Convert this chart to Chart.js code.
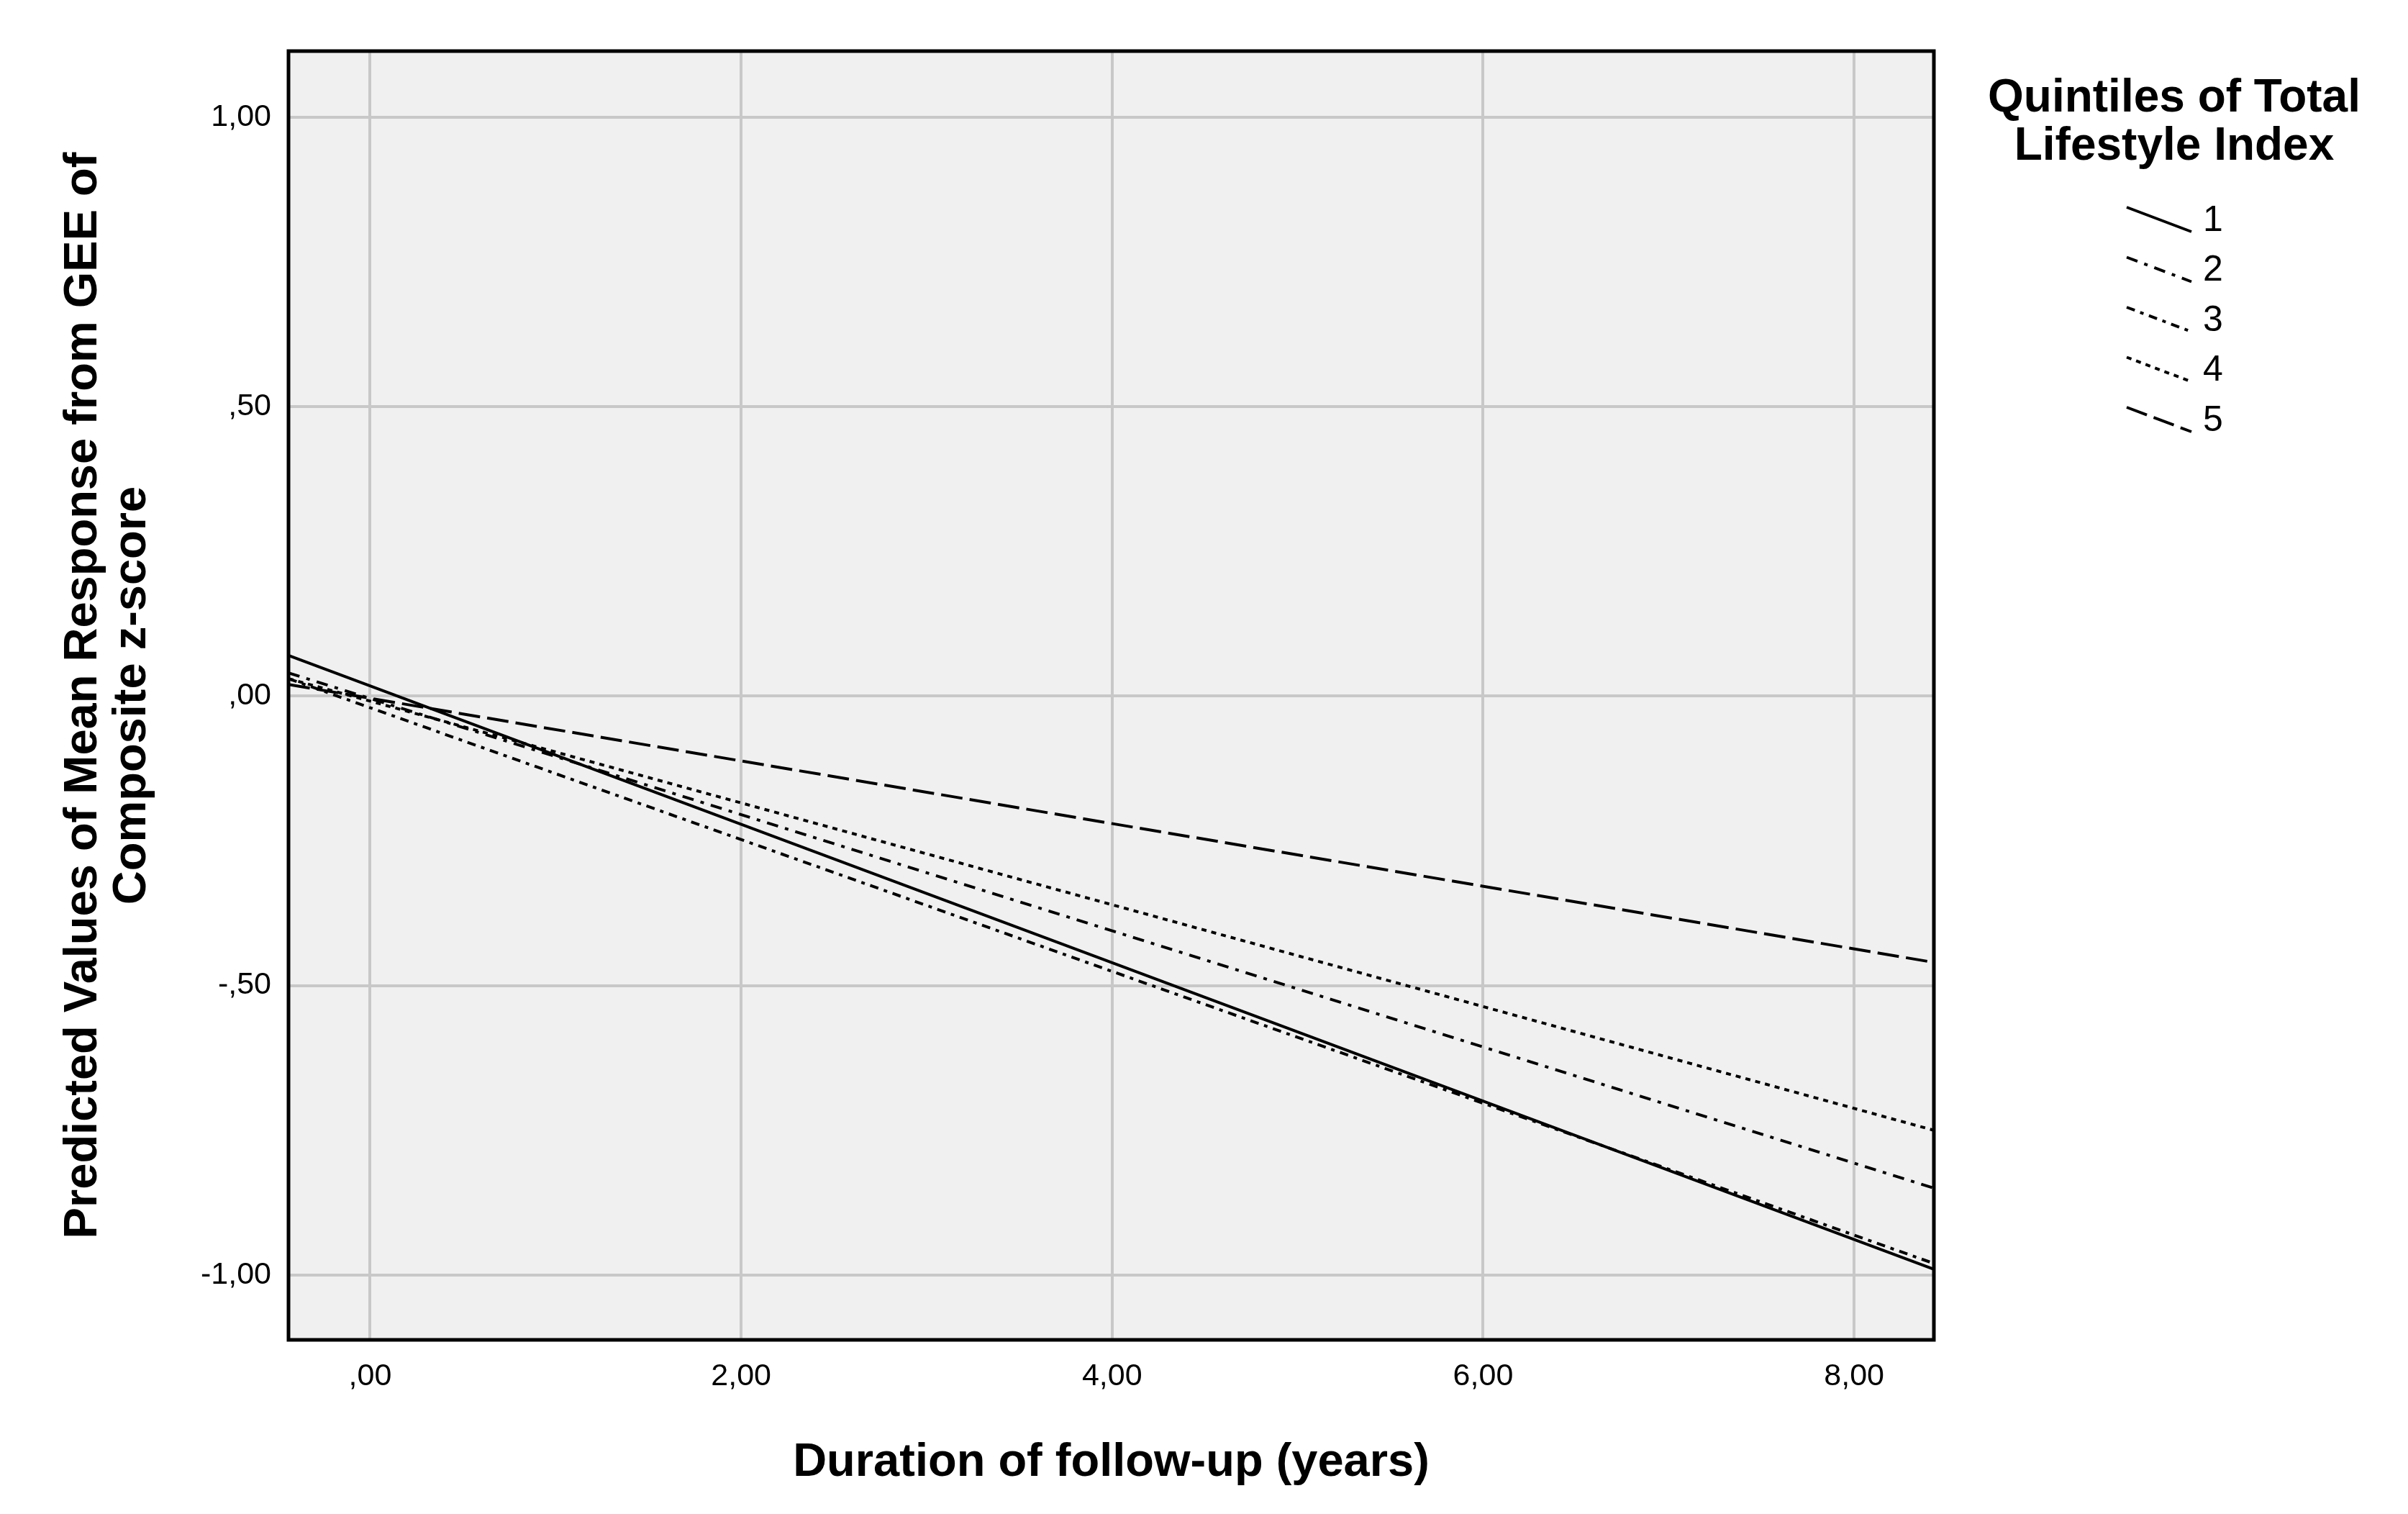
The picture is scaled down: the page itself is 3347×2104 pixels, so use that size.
<!DOCTYPE html>
<html>
<head>
<meta charset="utf-8">
<script src="https://cdn.jsdelivr.net/npm/chart.js@4"></script>
<style>
  html, body { margin: 0; padding: 0; background: #fff; }
  #wrap { width: 3347px; height: 2104px; }
</style>
</head>
<body>
<div id="wrap"><canvas id="chart"></canvas></div>
<script>
// Data (x at the plot edges)
const xEnds = [-0.44, 8.43];
const q1 = [0.07, -0.99];
const q2 = [0.04, -0.85];
const q3 = [0.03, -0.98];
const q4 = [0.03, -0.75];
const q5 = [0.02, -0.46];
const quintileLabels = ['1', '2', '3', '4', '5'];
const dashes = [[], [16, 10, 5, 10], [12, 8, 5, 8], [7, 7], [30, 10]];

const FONT = '"Liberation Sans", Arial, sans-serif';
const fmt = v => (Math.abs(v) < 1e-9 ? ',00' : v.toFixed(2).replace('.', ',').replace(/^(-?)0,/, '$1,'));

function toPoints(ys) {
    return ys.map((y, i) => ({ x: xEnds[i], y: y }));
}

const frame = {
    id: 'frame',
    beforeDraw(chart) {
        const { ctx, chartArea: a } = chart;
        ctx.save();
        ctx.fillStyle = '#f0f0f0';
        ctx.fillRect(a.left, a.top, a.right - a.left, a.bottom - a.top);
        ctx.restore();
    },
    afterDraw(chart) {
        const { ctx, chartArea: a } = chart;
        ctx.save();
        ctx.strokeStyle = '#000';
        ctx.lineWidth = 5;
        ctx.strokeRect(a.left, a.top, a.right - a.left, a.bottom - a.top);

        // axis titles
        ctx.fillStyle = '#000';
        ctx.font = 'bold 65px ' + FONT;
        ctx.textAlign = 'center';
        ctx.textBaseline = 'middle';
        ctx.fillText('Duration of follow-up (years)', (a.left + a.right) / 2, 2033);
        ctx.save();
        ctx.translate(150, (a.top + a.bottom) / 2);
        ctx.rotate(-Math.PI / 2);
        ctx.fillText('Predicted Values of Mean Response from GEE of', 0, -34);
        ctx.fillText('Composite z-score', 0, 34);
        ctx.restore();

        // legend
        ctx.font = 'bold 64px ' + FONT;
        ctx.fillText('Quintiles of Total', 3022, 137);
        ctx.fillText('Lifestyle Index', 3022, 204);
        ctx.font = '50px ' + FONT;
        ctx.textAlign = 'left';
        quintileLabels.forEach((lab, i) => {
            const y = 307 + i * 69.5;
            ctx.beginPath();
            ctx.setLineDash(dashes[i]);
            ctx.lineWidth = 4;
            ctx.moveTo(2956, y - 19);
            ctx.lineTo(3046, y + 15);
            ctx.stroke();
            ctx.setLineDash([]);
            ctx.fillText(lab, 3062, y);
        });
        ctx.restore();
    }
};

const series = [q1, q2, q3, q4, q5];

new Chart(document.getElementById('chart'), {
    type: 'line',
    data: {
        datasets: series.map((s, i) => ({
            label: quintileLabels[i],
            data: toPoints(s),
            borderColor: '#000',
            borderWidth: 4,
            borderDash: dashes[i],
            pointRadius: 0,
            fill: false
        }))
    },
    options: {
        responsive: true,
        maintainAspectRatio: false,
        animation: false,
        layout: { padding: { top: 71, right: 659, left: 0, bottom: 0 } },
        plugins: { legend: { display: false }, tooltip: { enabled: false } },
        scales: {
            x: {
                type: 'linear',
                min: -0.44,
                max: 8.43,
                afterBuildTicks: s => { s.ticks = [0, 2, 4, 6, 8].map(v => ({ value: v })); },
                afterFit: s => { s.height = 242; },
                grid: { color: '#c8c8c8', lineWidth: 4, drawTicks: false },
                border: { display: false },
                ticks: { padding: 25, color: '#000', font: { family: FONT, size: 43 }, callback: fmt }
            },
            y: {
                min: -1.112,
                max: 1.114,
                afterBuildTicks: s => { s.ticks = [-1, -0.5, 0, 0.5, 1].map(v => ({ value: v })); },
                afterFit: s => { s.width = 401; },
                grid: { color: '#c8c8c8', lineWidth: 4, drawTicks: false },
                border: { display: false },
                ticks: { padding: 24, color: '#000', font: { family: FONT, size: 43 }, callback: fmt }
            }
        }
    },
    plugins: [frame]
});
</script>
</body>
</html>
